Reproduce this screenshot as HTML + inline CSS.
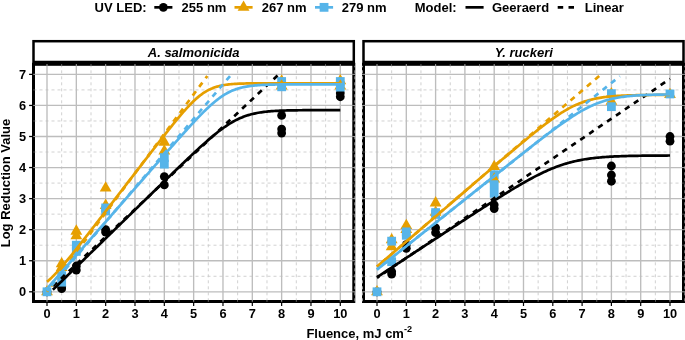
<!DOCTYPE html>
<html><head><meta charset="utf-8"><title>chart</title>
<style>html,body{margin:0;padding:0;background:#fff}body{width:685px;height:340px;overflow:hidden;position:relative;font-family:"Liberation Sans",sans-serif}svg{position:absolute;left:0;top:0;will-change:transform}</style></head>
<body>
<svg width="685" height="340" viewBox="0 0 685 340" style="display:block" font-family="Liberation Sans, sans-serif" font-weight="bold">
<rect width="685" height="340" fill="#fff"/>
<clipPath id="cp0"><rect x="33.5" y="64.3" width="320.3" height="237.2"/></clipPath>
<g clip-path="url(#cp0)">
<line x1="61.66" x2="61.66" y1="64.3" y2="301.5" stroke="#cccccc" stroke-width="0.9" stroke-dasharray="3 3"/>
<line x1="91.00" x2="91.00" y1="64.3" y2="301.5" stroke="#cccccc" stroke-width="0.9" stroke-dasharray="3 3"/>
<line x1="120.32" x2="120.32" y1="64.3" y2="301.5" stroke="#cccccc" stroke-width="0.9" stroke-dasharray="3 3"/>
<line x1="149.66" x2="149.66" y1="64.3" y2="301.5" stroke="#cccccc" stroke-width="0.9" stroke-dasharray="3 3"/>
<line x1="178.98" x2="178.98" y1="64.3" y2="301.5" stroke="#cccccc" stroke-width="0.9" stroke-dasharray="3 3"/>
<line x1="208.31" x2="208.31" y1="64.3" y2="301.5" stroke="#cccccc" stroke-width="0.9" stroke-dasharray="3 3"/>
<line x1="237.64" x2="237.64" y1="64.3" y2="301.5" stroke="#cccccc" stroke-width="0.9" stroke-dasharray="3 3"/>
<line x1="266.98" x2="266.98" y1="64.3" y2="301.5" stroke="#cccccc" stroke-width="0.9" stroke-dasharray="3 3"/>
<line x1="296.30" x2="296.30" y1="64.3" y2="301.5" stroke="#cccccc" stroke-width="0.9" stroke-dasharray="3 3"/>
<line x1="325.63" x2="325.63" y1="64.3" y2="301.5" stroke="#cccccc" stroke-width="0.9" stroke-dasharray="3 3"/>
<line x1="33.5" x2="353.8" y1="276.27" y2="276.27" stroke="#cccccc" stroke-width="0.9" stroke-dasharray="3 3"/>
<line x1="33.5" x2="353.8" y1="245.21" y2="245.21" stroke="#cccccc" stroke-width="0.9" stroke-dasharray="3 3"/>
<line x1="33.5" x2="353.8" y1="214.15" y2="214.15" stroke="#cccccc" stroke-width="0.9" stroke-dasharray="3 3"/>
<line x1="33.5" x2="353.8" y1="183.09" y2="183.09" stroke="#cccccc" stroke-width="0.9" stroke-dasharray="3 3"/>
<line x1="33.5" x2="353.8" y1="152.03" y2="152.03" stroke="#cccccc" stroke-width="0.9" stroke-dasharray="3 3"/>
<line x1="33.5" x2="353.8" y1="120.97" y2="120.97" stroke="#cccccc" stroke-width="0.9" stroke-dasharray="3 3"/>
<line x1="33.5" x2="353.8" y1="89.91" y2="89.91" stroke="#cccccc" stroke-width="0.9" stroke-dasharray="3 3"/>
<line x1="47.00" x2="47.00" y1="64.3" y2="301.5" stroke="#bdbdbd" stroke-width="1.35"/>
<line x1="76.33" x2="76.33" y1="64.3" y2="301.5" stroke="#bdbdbd" stroke-width="1.35"/>
<line x1="105.66" x2="105.66" y1="64.3" y2="301.5" stroke="#bdbdbd" stroke-width="1.35"/>
<line x1="134.99" x2="134.99" y1="64.3" y2="301.5" stroke="#bdbdbd" stroke-width="1.35"/>
<line x1="164.32" x2="164.32" y1="64.3" y2="301.5" stroke="#bdbdbd" stroke-width="1.35"/>
<line x1="193.65" x2="193.65" y1="64.3" y2="301.5" stroke="#bdbdbd" stroke-width="1.35"/>
<line x1="222.98" x2="222.98" y1="64.3" y2="301.5" stroke="#bdbdbd" stroke-width="1.35"/>
<line x1="252.31" x2="252.31" y1="64.3" y2="301.5" stroke="#bdbdbd" stroke-width="1.35"/>
<line x1="281.64" x2="281.64" y1="64.3" y2="301.5" stroke="#bdbdbd" stroke-width="1.35"/>
<line x1="310.97" x2="310.97" y1="64.3" y2="301.5" stroke="#bdbdbd" stroke-width="1.35"/>
<line x1="340.30" x2="340.30" y1="64.3" y2="301.5" stroke="#bdbdbd" stroke-width="1.35"/>
<line x1="33.5" x2="353.8" y1="291.80" y2="291.80" stroke="#bdbdbd" stroke-width="1.35"/>
<line x1="33.5" x2="353.8" y1="260.74" y2="260.74" stroke="#bdbdbd" stroke-width="1.35"/>
<line x1="33.5" x2="353.8" y1="229.68" y2="229.68" stroke="#bdbdbd" stroke-width="1.35"/>
<line x1="33.5" x2="353.8" y1="198.62" y2="198.62" stroke="#bdbdbd" stroke-width="1.35"/>
<line x1="33.5" x2="353.8" y1="167.56" y2="167.56" stroke="#bdbdbd" stroke-width="1.35"/>
<line x1="33.5" x2="353.8" y1="136.50" y2="136.50" stroke="#bdbdbd" stroke-width="1.35"/>
<line x1="33.5" x2="353.8" y1="105.44" y2="105.44" stroke="#bdbdbd" stroke-width="1.35"/>
<line x1="33.5" x2="353.8" y1="74.38" y2="74.38" stroke="#bdbdbd" stroke-width="1.35"/>
</g>
<rect x="33.5" y="64.3" width="320.3" height="237.2" fill="none" stroke="#000" stroke-width="3"/>
<rect x="33.5" y="41.2" width="320.3" height="20.80" fill="#fff" stroke="#000" stroke-width="2.5"/>
<line x1="47.00" x2="47.00" y1="64.0" y2="65.89999999999999" stroke="#bdbdbd" stroke-width="1.1" opacity="0.8"/>
<line x1="76.33" x2="76.33" y1="64.0" y2="65.89999999999999" stroke="#bdbdbd" stroke-width="1.1" opacity="0.8"/>
<line x1="105.66" x2="105.66" y1="64.0" y2="65.89999999999999" stroke="#bdbdbd" stroke-width="1.1" opacity="0.8"/>
<line x1="134.99" x2="134.99" y1="64.0" y2="65.89999999999999" stroke="#bdbdbd" stroke-width="1.1" opacity="0.8"/>
<line x1="164.32" x2="164.32" y1="64.0" y2="65.89999999999999" stroke="#bdbdbd" stroke-width="1.1" opacity="0.8"/>
<line x1="193.65" x2="193.65" y1="64.0" y2="65.89999999999999" stroke="#bdbdbd" stroke-width="1.1" opacity="0.8"/>
<line x1="222.98" x2="222.98" y1="64.0" y2="65.89999999999999" stroke="#bdbdbd" stroke-width="1.1" opacity="0.8"/>
<line x1="252.31" x2="252.31" y1="64.0" y2="65.89999999999999" stroke="#bdbdbd" stroke-width="1.1" opacity="0.8"/>
<line x1="281.64" x2="281.64" y1="64.0" y2="65.89999999999999" stroke="#bdbdbd" stroke-width="1.1" opacity="0.8"/>
<line x1="310.97" x2="310.97" y1="64.0" y2="65.89999999999999" stroke="#bdbdbd" stroke-width="1.1" opacity="0.8"/>
<line x1="340.30" x2="340.30" y1="64.0" y2="65.89999999999999" stroke="#bdbdbd" stroke-width="1.1" opacity="0.8"/>
<line x1="61.66" x2="61.66" y1="64.0" y2="65.89999999999999" stroke="#cccccc" stroke-width="0.7" opacity="0.7"/>
<line x1="91.00" x2="91.00" y1="64.0" y2="65.89999999999999" stroke="#cccccc" stroke-width="0.7" opacity="0.7"/>
<line x1="120.32" x2="120.32" y1="64.0" y2="65.89999999999999" stroke="#cccccc" stroke-width="0.7" opacity="0.7"/>
<line x1="149.66" x2="149.66" y1="64.0" y2="65.89999999999999" stroke="#cccccc" stroke-width="0.7" opacity="0.7"/>
<line x1="178.98" x2="178.98" y1="64.0" y2="65.89999999999999" stroke="#cccccc" stroke-width="0.7" opacity="0.7"/>
<line x1="208.31" x2="208.31" y1="64.0" y2="65.89999999999999" stroke="#cccccc" stroke-width="0.7" opacity="0.7"/>
<line x1="237.64" x2="237.64" y1="64.0" y2="65.89999999999999" stroke="#cccccc" stroke-width="0.7" opacity="0.7"/>
<line x1="266.98" x2="266.98" y1="64.0" y2="65.89999999999999" stroke="#cccccc" stroke-width="0.7" opacity="0.7"/>
<line x1="296.30" x2="296.30" y1="64.0" y2="65.89999999999999" stroke="#cccccc" stroke-width="0.7" opacity="0.7"/>
<line x1="325.63" x2="325.63" y1="64.0" y2="65.89999999999999" stroke="#cccccc" stroke-width="0.7" opacity="0.7"/>
<line x1="354.96" x2="354.96" y1="65.8" y2="303.0" stroke="#cccccc" stroke-width="0.9" stroke-dasharray="3 3" stroke-dashoffset="1.5"/>
<line x1="47.00" x2="47.00" y1="299.9" y2="301.8" stroke="#bdbdbd" stroke-width="1.1" opacity="0.8"/>
<line x1="76.33" x2="76.33" y1="299.9" y2="301.8" stroke="#bdbdbd" stroke-width="1.1" opacity="0.8"/>
<line x1="105.66" x2="105.66" y1="299.9" y2="301.8" stroke="#bdbdbd" stroke-width="1.1" opacity="0.8"/>
<line x1="134.99" x2="134.99" y1="299.9" y2="301.8" stroke="#bdbdbd" stroke-width="1.1" opacity="0.8"/>
<line x1="164.32" x2="164.32" y1="299.9" y2="301.8" stroke="#bdbdbd" stroke-width="1.1" opacity="0.8"/>
<line x1="193.65" x2="193.65" y1="299.9" y2="301.8" stroke="#bdbdbd" stroke-width="1.1" opacity="0.8"/>
<line x1="222.98" x2="222.98" y1="299.9" y2="301.8" stroke="#bdbdbd" stroke-width="1.1" opacity="0.8"/>
<line x1="252.31" x2="252.31" y1="299.9" y2="301.8" stroke="#bdbdbd" stroke-width="1.1" opacity="0.8"/>
<line x1="281.64" x2="281.64" y1="299.9" y2="301.8" stroke="#bdbdbd" stroke-width="1.1" opacity="0.8"/>
<line x1="310.97" x2="310.97" y1="299.9" y2="301.8" stroke="#bdbdbd" stroke-width="1.1" opacity="0.8"/>
<line x1="340.30" x2="340.30" y1="299.9" y2="301.8" stroke="#bdbdbd" stroke-width="1.1" opacity="0.8"/>
<line x1="61.66" x2="61.66" y1="299.9" y2="301.8" stroke="#cccccc" stroke-width="0.7" opacity="0.7"/>
<line x1="91.00" x2="91.00" y1="299.9" y2="301.8" stroke="#cccccc" stroke-width="0.7" opacity="0.7"/>
<line x1="120.32" x2="120.32" y1="299.9" y2="301.8" stroke="#cccccc" stroke-width="0.7" opacity="0.7"/>
<line x1="149.66" x2="149.66" y1="299.9" y2="301.8" stroke="#cccccc" stroke-width="0.7" opacity="0.7"/>
<line x1="178.98" x2="178.98" y1="299.9" y2="301.8" stroke="#cccccc" stroke-width="0.7" opacity="0.7"/>
<line x1="208.31" x2="208.31" y1="299.9" y2="301.8" stroke="#cccccc" stroke-width="0.7" opacity="0.7"/>
<line x1="237.64" x2="237.64" y1="299.9" y2="301.8" stroke="#cccccc" stroke-width="0.7" opacity="0.7"/>
<line x1="266.98" x2="266.98" y1="299.9" y2="301.8" stroke="#cccccc" stroke-width="0.7" opacity="0.7"/>
<line x1="296.30" x2="296.30" y1="299.9" y2="301.8" stroke="#cccccc" stroke-width="0.7" opacity="0.7"/>
<line x1="325.63" x2="325.63" y1="299.9" y2="301.8" stroke="#cccccc" stroke-width="0.7" opacity="0.7"/>
<line x1="33.2" x2="35.1" y1="291.80" y2="291.80" stroke="#bdbdbd" stroke-width="1.1" opacity="0.8"/>
<line x1="352.2" x2="355.40000000000003" y1="291.80" y2="291.80" stroke="#bdbdbd" stroke-width="1.1" opacity="0.8"/>
<line x1="33.2" x2="35.1" y1="260.74" y2="260.74" stroke="#bdbdbd" stroke-width="1.1" opacity="0.8"/>
<line x1="352.2" x2="355.40000000000003" y1="260.74" y2="260.74" stroke="#bdbdbd" stroke-width="1.1" opacity="0.8"/>
<line x1="33.2" x2="35.1" y1="229.68" y2="229.68" stroke="#bdbdbd" stroke-width="1.1" opacity="0.8"/>
<line x1="352.2" x2="355.40000000000003" y1="229.68" y2="229.68" stroke="#bdbdbd" stroke-width="1.1" opacity="0.8"/>
<line x1="33.2" x2="35.1" y1="198.62" y2="198.62" stroke="#bdbdbd" stroke-width="1.1" opacity="0.8"/>
<line x1="352.2" x2="355.40000000000003" y1="198.62" y2="198.62" stroke="#bdbdbd" stroke-width="1.1" opacity="0.8"/>
<line x1="33.2" x2="35.1" y1="167.56" y2="167.56" stroke="#bdbdbd" stroke-width="1.1" opacity="0.8"/>
<line x1="352.2" x2="355.40000000000003" y1="167.56" y2="167.56" stroke="#bdbdbd" stroke-width="1.1" opacity="0.8"/>
<line x1="33.2" x2="35.1" y1="136.50" y2="136.50" stroke="#bdbdbd" stroke-width="1.1" opacity="0.8"/>
<line x1="352.2" x2="355.40000000000003" y1="136.50" y2="136.50" stroke="#bdbdbd" stroke-width="1.1" opacity="0.8"/>
<line x1="33.2" x2="35.1" y1="105.44" y2="105.44" stroke="#bdbdbd" stroke-width="1.1" opacity="0.8"/>
<line x1="352.2" x2="355.40000000000003" y1="105.44" y2="105.44" stroke="#bdbdbd" stroke-width="1.1" opacity="0.8"/>
<line x1="33.2" x2="35.1" y1="74.38" y2="74.38" stroke="#bdbdbd" stroke-width="1.1" opacity="0.8"/>
<line x1="352.2" x2="355.40000000000003" y1="74.38" y2="74.38" stroke="#bdbdbd" stroke-width="1.1" opacity="0.8"/>
<line x1="33.2" x2="35.1" y1="276.27" y2="276.27" stroke="#cccccc" stroke-width="0.7" opacity="0.5"/>
<line x1="352.2" x2="355.40000000000003" y1="276.27" y2="276.27" stroke="#cccccc" stroke-width="0.7" opacity="0.5"/>
<line x1="33.2" x2="35.1" y1="245.21" y2="245.21" stroke="#cccccc" stroke-width="0.7" opacity="0.5"/>
<line x1="352.2" x2="355.40000000000003" y1="245.21" y2="245.21" stroke="#cccccc" stroke-width="0.7" opacity="0.5"/>
<line x1="33.2" x2="35.1" y1="214.15" y2="214.15" stroke="#cccccc" stroke-width="0.7" opacity="0.5"/>
<line x1="352.2" x2="355.40000000000003" y1="214.15" y2="214.15" stroke="#cccccc" stroke-width="0.7" opacity="0.5"/>
<line x1="33.2" x2="35.1" y1="183.09" y2="183.09" stroke="#cccccc" stroke-width="0.7" opacity="0.5"/>
<line x1="352.2" x2="355.40000000000003" y1="183.09" y2="183.09" stroke="#cccccc" stroke-width="0.7" opacity="0.5"/>
<line x1="33.2" x2="35.1" y1="152.03" y2="152.03" stroke="#cccccc" stroke-width="0.7" opacity="0.5"/>
<line x1="352.2" x2="355.40000000000003" y1="152.03" y2="152.03" stroke="#cccccc" stroke-width="0.7" opacity="0.5"/>
<line x1="33.2" x2="35.1" y1="120.97" y2="120.97" stroke="#cccccc" stroke-width="0.7" opacity="0.5"/>
<line x1="352.2" x2="355.40000000000003" y1="120.97" y2="120.97" stroke="#cccccc" stroke-width="0.7" opacity="0.5"/>
<line x1="33.2" x2="35.1" y1="89.91" y2="89.91" stroke="#cccccc" stroke-width="0.7" opacity="0.5"/>
<line x1="352.2" x2="355.40000000000003" y1="89.91" y2="89.91" stroke="#cccccc" stroke-width="0.7" opacity="0.5"/>
<g clip-path="url(#cp0)">
<circle cx="47.00" cy="291.80" r="4.4" fill="#000000"/>
<circle cx="61.66" cy="288.69" r="4.4" fill="#000000"/>
<circle cx="76.33" cy="270.06" r="4.4" fill="#000000"/>
<circle cx="105.66" cy="232.16" r="4.4" fill="#000000"/>
<circle cx="164.32" cy="184.95" r="4.4" fill="#000000"/>
<circle cx="281.64" cy="133.08" r="4.4" fill="#000000"/>
<circle cx="340.30" cy="96.74" r="4.4" fill="#000000"/>
<polygon points="47.00,284.93 52.92,295.23 41.08,295.23" fill="#E69F00"/>
<polygon points="61.66,260.71 67.59,271.01 55.74,271.01" fill="#E69F00"/>
<polygon points="76.33,229.03 82.25,239.33 70.41,239.33" fill="#E69F00"/>
<polygon points="105.66,198.59 111.58,208.89 99.73,208.89" fill="#E69F00"/>
<polygon points="164.32,144.23 170.25,154.53 158.39,154.53" fill="#E69F00"/>
<polygon points="281.64,74.35 287.56,84.65 275.71,84.65" fill="#E69F00"/>
<polygon points="340.30,74.04 346.22,84.34 334.37,84.34" fill="#E69F00"/>
<rect x="42.60" y="287.40" width="8.8" height="8.8" fill="#56B4E9"/>
<rect x="57.27" y="271.25" width="8.8" height="8.8" fill="#56B4E9"/>
<rect x="71.93" y="247.02" width="8.8" height="8.8" fill="#56B4E9"/>
<rect x="101.26" y="206.64" width="8.8" height="8.8" fill="#56B4E9"/>
<rect x="159.92" y="159.74" width="8.8" height="8.8" fill="#56B4E9"/>
<rect x="277.24" y="77.12" width="8.8" height="8.8" fill="#56B4E9"/>
<rect x="335.90" y="77.12" width="8.8" height="8.8" fill="#56B4E9"/>
<circle cx="61.66" cy="286.52" r="4.4" fill="#000000"/>
<circle cx="76.33" cy="266.02" r="4.4" fill="#000000"/>
<circle cx="105.66" cy="229.68" r="4.4" fill="#000000"/>
<circle cx="164.32" cy="176.57" r="4.4" fill="#000000"/>
<circle cx="281.64" cy="129.05" r="4.4" fill="#000000"/>
<circle cx="340.30" cy="93.02" r="4.4" fill="#000000"/>
<polygon points="61.66,256.98 67.59,267.28 55.74,267.28" fill="#E69F00"/>
<polygon points="76.33,224.37 82.25,234.67 70.41,234.67" fill="#E69F00"/>
<polygon points="105.66,181.19 111.58,191.49 99.73,191.49" fill="#E69F00"/>
<polygon points="164.32,135.53 170.25,145.83 158.39,145.83" fill="#E69F00"/>
<polygon points="281.64,79.32 287.56,89.62 275.71,89.62" fill="#E69F00"/>
<polygon points="340.30,79.32 346.22,89.62 334.37,89.62" fill="#E69F00"/>
<rect x="57.27" y="277.77" width="8.8" height="8.8" fill="#56B4E9"/>
<rect x="71.93" y="240.81" width="8.8" height="8.8" fill="#56B4E9"/>
<rect x="101.26" y="203.54" width="8.8" height="8.8" fill="#56B4E9"/>
<rect x="159.92" y="153.22" width="8.8" height="8.8" fill="#56B4E9"/>
<rect x="277.24" y="82.40" width="8.8" height="8.8" fill="#56B4E9"/>
<rect x="335.90" y="82.71" width="8.8" height="8.8" fill="#56B4E9"/>
<circle cx="281.64" cy="115.38" r="4.4" fill="#000000"/>
<path d="M52.87,289.81 L54.30,288.41 L55.74,287.01 L57.18,285.61 L58.61,284.21 L60.05,282.81 L61.49,281.41 L62.93,280.01 L64.36,278.61 L65.80,277.21 L67.24,275.81 L68.67,274.41 L70.11,273.01 L71.55,271.61 L72.99,270.21 L74.42,268.81 L75.86,267.41 L77.30,266.01 L78.74,264.61 L80.17,263.21 L81.61,261.81 L83.05,260.41 L84.48,259.01 L85.92,257.61 L87.36,256.21 L88.80,254.81 L90.23,253.41 L91.67,252.01 L93.11,250.61 L94.54,249.21 L95.98,247.81 L97.42,246.41 L98.86,245.01 L100.29,243.61 L101.73,242.21 L103.17,240.81 L104.60,239.41 L106.04,238.01 L107.48,236.61 L108.92,235.21 L110.35,233.81 L111.79,232.41 L113.23,231.01 L114.66,229.61 L116.10,228.21 L117.54,226.81 L118.98,225.41 L120.41,224.01 L121.85,222.61 L123.29,221.21 L124.72,219.81 L126.16,218.41 L127.60,217.01 L129.04,215.61 L130.47,214.21 L131.91,212.81 L133.35,211.41 L134.78,210.01 L136.22,208.61 L137.66,207.21 L139.10,205.81 L140.53,204.41 L141.97,203.01 L143.41,201.62 L144.84,200.22 L146.28,198.82 L147.72,197.42 L149.16,196.02 L150.59,194.63 L152.03,193.23 L153.47,191.83 L154.91,190.43 L156.34,189.04 L157.78,187.64 L159.22,186.25 L160.65,184.85 L162.09,183.46 L163.53,182.06 L164.97,180.67 L166.40,179.28 L167.84,177.89 L169.28,176.50 L170.71,175.11 L172.15,173.72 L173.59,172.33 L175.03,170.95 L176.46,169.56 L177.90,168.18 L179.34,166.80 L180.77,165.42 L182.21,164.05 L183.65,162.67 L185.09,161.30 L186.52,159.93 L187.96,158.57 L189.40,157.21 L190.83,155.86 L192.27,154.51 L193.71,153.16 L195.15,151.82 L196.58,150.49 L198.02,149.16 L199.46,147.84 L200.89,146.53 L202.33,145.23 L203.77,143.94 L205.21,142.66 L206.64,141.39 L208.08,140.13 L209.52,138.89 L210.95,137.66 L212.39,136.45 L213.83,135.26 L215.27,134.09 L216.70,132.93 L218.14,131.80 L219.58,130.69 L221.01,129.61 L222.45,128.55 L223.89,127.52 L225.33,126.52 L226.76,125.55 L228.20,124.61 L229.64,123.71 L231.08,122.83 L232.51,122.00 L233.95,121.19 L235.39,120.43 L236.82,119.70 L238.26,119.00 L239.70,118.34 L241.14,117.72 L242.57,117.13 L244.01,116.58 L245.45,116.07 L246.88,115.58 L248.32,115.13 L249.76,114.71 L251.20,114.32 L252.63,113.96 L254.07,113.62 L255.51,113.31 L256.94,113.03 L258.38,112.77 L259.82,112.52 L261.26,112.30 L262.69,112.10 L264.13,111.92 L265.57,111.75 L267.00,111.59 L268.44,111.45 L269.88,111.33 L271.32,111.21 L272.75,111.10 L274.19,111.01 L275.63,110.92 L277.06,110.84 L278.50,110.77 L279.94,110.71 L281.38,110.65 L282.81,110.59 L284.25,110.55 L285.69,110.50 L287.12,110.46 L288.56,110.43 L290.00,110.40 L291.44,110.37 L292.87,110.34 L294.31,110.32 L295.75,110.30 L297.18,110.28 L298.62,110.26 L300.06,110.24 L301.50,110.23 L302.93,110.22 L304.37,110.20 L305.81,110.19 L307.25,110.19 L308.68,110.18 L310.12,110.17 L311.56,110.16 L312.99,110.16 L314.43,110.15 L315.87,110.15 L317.31,110.14 L318.74,110.14 L320.18,110.13 L321.62,110.13 L323.05,110.13 L324.49,110.12 L325.93,110.12 L327.37,110.12 L328.80,110.12 L330.24,110.12 L331.68,110.11 L333.11,110.11 L334.55,110.11 L335.99,110.11 L337.43,110.11 L338.86,110.11 L340.30,110.11" fill="none" stroke="#000000" stroke-width="2.7" stroke-linejoin="round"/>
<line x1="277.53" y1="75.50" x2="52.87" y2="286.30" stroke="#000000" stroke-width="2.7" stroke-dasharray="5.4 5.4" stroke-dashoffset="0.0"/>
<path d="M47.00,281.86 L48.47,280.58 L49.93,279.25 L51.40,277.86 L52.87,276.41 L54.33,274.92 L55.80,273.39 L57.27,271.81 L58.73,270.20 L60.20,268.56 L61.66,266.88 L63.13,265.18 L64.60,263.45 L66.06,261.70 L67.53,259.93 L69.00,258.15 L70.46,256.35 L71.93,254.53 L73.40,252.71 L74.86,250.87 L76.33,249.03 L77.80,247.17 L79.26,245.31 L80.73,243.45 L82.20,241.57 L83.66,239.70 L85.13,237.82 L86.60,235.94 L88.06,234.05 L89.53,232.16 L91.00,230.27 L92.46,228.37 L93.93,226.48 L95.39,224.58 L96.86,222.68 L98.33,220.78 L99.79,218.88 L101.26,216.98 L102.73,215.08 L104.19,213.18 L105.66,211.27 L107.13,209.37 L108.59,207.47 L110.06,205.56 L111.53,203.66 L112.99,201.75 L114.46,199.85 L115.93,197.94 L117.39,196.04 L118.86,194.13 L120.32,192.23 L121.79,190.32 L123.26,188.41 L124.72,186.51 L126.19,184.60 L127.66,182.70 L129.12,180.79 L130.59,178.89 L132.06,176.98 L133.52,175.08 L134.99,173.17 L136.46,171.27 L137.92,169.36 L139.39,167.46 L140.86,165.56 L142.32,163.66 L143.79,161.75 L145.26,159.85 L146.72,157.95 L148.19,156.05 L149.66,154.16 L151.12,152.26 L152.59,150.37 L154.05,148.47 L155.52,146.58 L156.99,144.69 L158.45,142.81 L159.92,140.93 L161.39,139.05 L162.85,137.17 L164.32,135.30 L165.79,133.44 L167.25,131.58 L168.72,129.73 L170.19,127.89 L171.65,126.06 L173.12,124.23 L174.59,122.42 L176.05,120.63 L177.52,118.85 L178.98,117.09 L180.45,115.35 L181.92,113.63 L183.38,111.93 L184.85,110.27 L186.32,108.63 L187.78,107.04 L189.25,105.47 L190.72,103.96 L192.18,102.48 L193.65,101.06 L195.12,99.69 L196.58,98.37 L198.05,97.12 L199.52,95.92 L200.98,94.79 L202.45,93.73 L203.92,92.73 L205.38,91.80 L206.85,90.94 L208.31,90.14 L209.78,89.41 L211.25,88.74 L212.71,88.13 L214.18,87.58 L215.65,87.08 L217.11,86.63 L218.58,86.23 L220.05,85.87 L221.51,85.55 L222.98,85.26 L224.45,85.01 L225.91,84.79 L227.38,84.60 L228.85,84.42 L230.31,84.27 L231.78,84.14 L233.25,84.02 L234.71,83.92 L236.18,83.83 L237.64,83.76 L239.11,83.69 L240.58,83.63 L242.04,83.58 L243.51,83.53 L244.98,83.49 L246.44,83.46 L247.91,83.43 L249.38,83.40 L250.84,83.38 L252.31,83.36 L253.78,83.34 L255.24,83.33 L256.71,83.32 L258.18,83.31 L259.64,83.30 L261.11,83.29 L262.58,83.28 L264.04,83.27 L265.51,83.27 L266.98,83.26 L268.44,83.26 L269.91,83.26 L271.37,83.25 L272.84,83.25 L274.31,83.25 L275.77,83.25 L277.24,83.24 L278.71,83.24 L280.17,83.24 L281.64,83.24 L283.11,83.24 L284.57,83.24 L286.04,83.24 L287.51,83.24 L288.97,83.24 L290.44,83.24 L291.91,83.23 L293.37,83.23 L294.84,83.23 L296.30,83.23 L297.77,83.23 L299.24,83.23 L300.70,83.23 L302.17,83.23 L303.64,83.23 L305.10,83.23 L306.57,83.23 L308.04,83.23 L309.50,83.23 L310.97,83.23 L312.44,83.23 L313.90,83.23 L315.37,83.23 L316.84,83.23 L318.30,83.23 L319.77,83.23 L321.24,83.23 L322.70,83.23 L324.17,83.23 L325.63,83.23 L327.10,83.23 L328.57,83.23 L330.03,83.23 L331.50,83.23 L332.97,83.23 L334.43,83.23 L335.90,83.23 L337.37,83.23 L338.83,83.23 L340.30,83.23" fill="none" stroke="#E69F00" stroke-width="2.7" stroke-linejoin="round"/>
<line x1="207.32" y1="75.93" x2="47.00" y2="291.80" stroke="#E69F00" stroke-width="2.7" stroke-dasharray="5.4 5.4" stroke-dashoffset="2.5"/>
<path d="M47.00,288.69 L48.47,287.02 L49.93,285.35 L51.40,283.68 L52.87,282.00 L54.33,280.33 L55.80,278.66 L57.27,276.99 L58.73,275.31 L60.20,273.64 L61.66,271.97 L63.13,270.30 L64.60,268.62 L66.06,266.95 L67.53,265.28 L69.00,263.61 L70.46,261.93 L71.93,260.26 L73.40,258.59 L74.86,256.91 L76.33,255.24 L77.80,253.57 L79.26,251.90 L80.73,250.22 L82.20,248.55 L83.66,246.88 L85.13,245.21 L86.60,243.53 L88.06,241.86 L89.53,240.19 L91.00,238.52 L92.46,236.84 L93.93,235.17 L95.39,233.50 L96.86,231.83 L98.33,230.15 L99.79,228.48 L101.26,226.81 L102.73,225.14 L104.19,223.46 L105.66,221.79 L107.13,220.12 L108.59,218.45 L110.06,216.77 L111.53,215.10 L112.99,213.43 L114.46,211.76 L115.93,210.08 L117.39,208.41 L118.86,206.74 L120.32,205.07 L121.79,203.39 L123.26,201.72 L124.72,200.05 L126.19,198.38 L127.66,196.71 L129.12,195.03 L130.59,193.36 L132.06,191.69 L133.52,190.02 L134.99,188.35 L136.46,186.67 L137.92,185.00 L139.39,183.33 L140.86,181.66 L142.32,179.99 L143.79,178.32 L145.26,176.65 L146.72,174.97 L148.19,173.30 L149.66,171.63 L151.12,169.96 L152.59,168.29 L154.05,166.63 L155.52,164.96 L156.99,163.29 L158.45,161.62 L159.92,159.95 L161.39,158.29 L162.85,156.62 L164.32,154.96 L165.79,153.30 L167.25,151.63 L168.72,149.97 L170.19,148.32 L171.65,146.66 L173.12,145.00 L174.59,143.35 L176.05,141.70 L177.52,140.05 L178.98,138.41 L180.45,136.77 L181.92,135.13 L183.38,133.50 L184.85,131.87 L186.32,130.25 L187.78,128.64 L189.25,127.03 L190.72,125.44 L192.18,123.85 L193.65,122.27 L195.12,120.70 L196.58,119.15 L198.05,117.61 L199.52,116.09 L200.98,114.59 L202.45,113.10 L203.92,111.64 L205.38,110.20 L206.85,108.78 L208.31,107.40 L209.78,106.04 L211.25,104.72 L212.71,103.44 L214.18,102.19 L215.65,100.98 L217.11,99.82 L218.58,98.70 L220.05,97.62 L221.51,96.60 L222.98,95.63 L224.45,94.70 L225.91,93.83 L227.38,93.01 L228.85,92.24 L230.31,91.52 L231.78,90.86 L233.25,90.24 L234.71,89.67 L236.18,89.14 L237.64,88.66 L239.11,88.22 L240.58,87.82 L242.04,87.46 L243.51,87.13 L244.98,86.83 L246.44,86.56 L247.91,86.31 L249.38,86.10 L250.84,85.90 L252.31,85.73 L253.78,85.57 L255.24,85.43 L256.71,85.30 L258.18,85.19 L259.64,85.09 L261.11,85.01 L262.58,84.93 L264.04,84.86 L265.51,84.80 L266.98,84.74 L268.44,84.69 L269.91,84.65 L271.37,84.61 L272.84,84.58 L274.31,84.55 L275.77,84.52 L277.24,84.50 L278.71,84.48 L280.17,84.46 L281.64,84.44 L283.11,84.43 L284.57,84.42 L286.04,84.40 L287.51,84.39 L288.97,84.39 L290.44,84.38 L291.91,84.37 L293.37,84.37 L294.84,84.36 L296.30,84.36 L297.77,84.35 L299.24,84.35 L300.70,84.34 L302.17,84.34 L303.64,84.34 L305.10,84.34 L306.57,84.33 L308.04,84.33 L309.50,84.33 L310.97,84.33 L312.44,84.33 L313.90,84.33 L315.37,84.33 L316.84,84.33 L318.30,84.32 L319.77,84.32 L321.24,84.32 L322.70,84.32 L324.17,84.32 L325.63,84.32 L327.10,84.32 L328.57,84.32 L330.03,84.32 L331.50,84.32 L332.97,84.32 L334.43,84.32 L335.90,84.32 L337.37,84.32 L338.83,84.32 L340.30,84.32" fill="none" stroke="#56B4E9" stroke-width="2.7" stroke-linejoin="round"/>
<line x1="230.02" y1="76.12" x2="47.00" y2="290.87" stroke="#56B4E9" stroke-width="2.7" stroke-dasharray="5.4 5.4" stroke-dashoffset="0.0"/>
</g>
<line x1="47.00" x2="47.00" y1="302.9" y2="306.0" stroke="#000" stroke-width="1.2"/>
<text x="47.00" y="318.2" font-size="12.8" text-anchor="middle">0</text>
<line x1="76.33" x2="76.33" y1="302.9" y2="306.0" stroke="#000" stroke-width="1.2"/>
<text x="76.33" y="318.2" font-size="12.8" text-anchor="middle">1</text>
<line x1="105.66" x2="105.66" y1="302.9" y2="306.0" stroke="#000" stroke-width="1.2"/>
<text x="105.66" y="318.2" font-size="12.8" text-anchor="middle">2</text>
<line x1="134.99" x2="134.99" y1="302.9" y2="306.0" stroke="#000" stroke-width="1.2"/>
<text x="134.99" y="318.2" font-size="12.8" text-anchor="middle">3</text>
<line x1="164.32" x2="164.32" y1="302.9" y2="306.0" stroke="#000" stroke-width="1.2"/>
<text x="164.32" y="318.2" font-size="12.8" text-anchor="middle">4</text>
<line x1="193.65" x2="193.65" y1="302.9" y2="306.0" stroke="#000" stroke-width="1.2"/>
<text x="193.65" y="318.2" font-size="12.8" text-anchor="middle">5</text>
<line x1="222.98" x2="222.98" y1="302.9" y2="306.0" stroke="#000" stroke-width="1.2"/>
<text x="222.98" y="318.2" font-size="12.8" text-anchor="middle">6</text>
<line x1="252.31" x2="252.31" y1="302.9" y2="306.0" stroke="#000" stroke-width="1.2"/>
<text x="252.31" y="318.2" font-size="12.8" text-anchor="middle">7</text>
<line x1="281.64" x2="281.64" y1="302.9" y2="306.0" stroke="#000" stroke-width="1.2"/>
<text x="281.64" y="318.2" font-size="12.8" text-anchor="middle">8</text>
<line x1="310.97" x2="310.97" y1="302.9" y2="306.0" stroke="#000" stroke-width="1.2"/>
<text x="310.97" y="318.2" font-size="12.8" text-anchor="middle">9</text>
<line x1="340.30" x2="340.30" y1="302.9" y2="306.0" stroke="#000" stroke-width="1.2"/>
<text x="340.30" y="318.2" font-size="12.8" text-anchor="middle">10</text>
<text x="193.65" y="57.1" font-size="13" font-style="italic" text-anchor="middle">A. salmonicida</text>
<clipPath id="cp1"><rect x="363.5" y="64.3" width="320.0" height="237.2"/></clipPath>
<g clip-path="url(#cp1)">
<line x1="391.65" x2="391.65" y1="64.3" y2="301.5" stroke="#cccccc" stroke-width="0.9" stroke-dasharray="3 3"/>
<line x1="420.95" x2="420.95" y1="64.3" y2="301.5" stroke="#cccccc" stroke-width="0.9" stroke-dasharray="3 3"/>
<line x1="450.25" x2="450.25" y1="64.3" y2="301.5" stroke="#cccccc" stroke-width="0.9" stroke-dasharray="3 3"/>
<line x1="479.55" x2="479.55" y1="64.3" y2="301.5" stroke="#cccccc" stroke-width="0.9" stroke-dasharray="3 3"/>
<line x1="508.85" x2="508.85" y1="64.3" y2="301.5" stroke="#cccccc" stroke-width="0.9" stroke-dasharray="3 3"/>
<line x1="538.15" x2="538.15" y1="64.3" y2="301.5" stroke="#cccccc" stroke-width="0.9" stroke-dasharray="3 3"/>
<line x1="567.45" x2="567.45" y1="64.3" y2="301.5" stroke="#cccccc" stroke-width="0.9" stroke-dasharray="3 3"/>
<line x1="596.75" x2="596.75" y1="64.3" y2="301.5" stroke="#cccccc" stroke-width="0.9" stroke-dasharray="3 3"/>
<line x1="626.05" x2="626.05" y1="64.3" y2="301.5" stroke="#cccccc" stroke-width="0.9" stroke-dasharray="3 3"/>
<line x1="655.35" x2="655.35" y1="64.3" y2="301.5" stroke="#cccccc" stroke-width="0.9" stroke-dasharray="3 3"/>
<line x1="363.5" x2="683.5" y1="276.27" y2="276.27" stroke="#cccccc" stroke-width="0.9" stroke-dasharray="3 3"/>
<line x1="363.5" x2="683.5" y1="245.21" y2="245.21" stroke="#cccccc" stroke-width="0.9" stroke-dasharray="3 3"/>
<line x1="363.5" x2="683.5" y1="214.15" y2="214.15" stroke="#cccccc" stroke-width="0.9" stroke-dasharray="3 3"/>
<line x1="363.5" x2="683.5" y1="183.09" y2="183.09" stroke="#cccccc" stroke-width="0.9" stroke-dasharray="3 3"/>
<line x1="363.5" x2="683.5" y1="152.03" y2="152.03" stroke="#cccccc" stroke-width="0.9" stroke-dasharray="3 3"/>
<line x1="363.5" x2="683.5" y1="120.97" y2="120.97" stroke="#cccccc" stroke-width="0.9" stroke-dasharray="3 3"/>
<line x1="363.5" x2="683.5" y1="89.91" y2="89.91" stroke="#cccccc" stroke-width="0.9" stroke-dasharray="3 3"/>
<line x1="377.00" x2="377.00" y1="64.3" y2="301.5" stroke="#bdbdbd" stroke-width="1.35"/>
<line x1="406.30" x2="406.30" y1="64.3" y2="301.5" stroke="#bdbdbd" stroke-width="1.35"/>
<line x1="435.60" x2="435.60" y1="64.3" y2="301.5" stroke="#bdbdbd" stroke-width="1.35"/>
<line x1="464.90" x2="464.90" y1="64.3" y2="301.5" stroke="#bdbdbd" stroke-width="1.35"/>
<line x1="494.20" x2="494.20" y1="64.3" y2="301.5" stroke="#bdbdbd" stroke-width="1.35"/>
<line x1="523.50" x2="523.50" y1="64.3" y2="301.5" stroke="#bdbdbd" stroke-width="1.35"/>
<line x1="552.80" x2="552.80" y1="64.3" y2="301.5" stroke="#bdbdbd" stroke-width="1.35"/>
<line x1="582.10" x2="582.10" y1="64.3" y2="301.5" stroke="#bdbdbd" stroke-width="1.35"/>
<line x1="611.40" x2="611.40" y1="64.3" y2="301.5" stroke="#bdbdbd" stroke-width="1.35"/>
<line x1="640.70" x2="640.70" y1="64.3" y2="301.5" stroke="#bdbdbd" stroke-width="1.35"/>
<line x1="670.00" x2="670.00" y1="64.3" y2="301.5" stroke="#bdbdbd" stroke-width="1.35"/>
<line x1="363.5" x2="683.5" y1="291.80" y2="291.80" stroke="#bdbdbd" stroke-width="1.35"/>
<line x1="363.5" x2="683.5" y1="260.74" y2="260.74" stroke="#bdbdbd" stroke-width="1.35"/>
<line x1="363.5" x2="683.5" y1="229.68" y2="229.68" stroke="#bdbdbd" stroke-width="1.35"/>
<line x1="363.5" x2="683.5" y1="198.62" y2="198.62" stroke="#bdbdbd" stroke-width="1.35"/>
<line x1="363.5" x2="683.5" y1="167.56" y2="167.56" stroke="#bdbdbd" stroke-width="1.35"/>
<line x1="363.5" x2="683.5" y1="136.50" y2="136.50" stroke="#bdbdbd" stroke-width="1.35"/>
<line x1="363.5" x2="683.5" y1="105.44" y2="105.44" stroke="#bdbdbd" stroke-width="1.35"/>
<line x1="363.5" x2="683.5" y1="74.38" y2="74.38" stroke="#bdbdbd" stroke-width="1.35"/>
</g>
<rect x="363.5" y="64.3" width="320.0" height="237.2" fill="none" stroke="#000" stroke-width="3"/>
<rect x="363.5" y="41.2" width="320.0" height="20.80" fill="#fff" stroke="#000" stroke-width="2.5"/>
<line x1="377.00" x2="377.00" y1="64.0" y2="65.89999999999999" stroke="#bdbdbd" stroke-width="1.1" opacity="0.8"/>
<line x1="406.30" x2="406.30" y1="64.0" y2="65.89999999999999" stroke="#bdbdbd" stroke-width="1.1" opacity="0.8"/>
<line x1="435.60" x2="435.60" y1="64.0" y2="65.89999999999999" stroke="#bdbdbd" stroke-width="1.1" opacity="0.8"/>
<line x1="464.90" x2="464.90" y1="64.0" y2="65.89999999999999" stroke="#bdbdbd" stroke-width="1.1" opacity="0.8"/>
<line x1="494.20" x2="494.20" y1="64.0" y2="65.89999999999999" stroke="#bdbdbd" stroke-width="1.1" opacity="0.8"/>
<line x1="523.50" x2="523.50" y1="64.0" y2="65.89999999999999" stroke="#bdbdbd" stroke-width="1.1" opacity="0.8"/>
<line x1="552.80" x2="552.80" y1="64.0" y2="65.89999999999999" stroke="#bdbdbd" stroke-width="1.1" opacity="0.8"/>
<line x1="582.10" x2="582.10" y1="64.0" y2="65.89999999999999" stroke="#bdbdbd" stroke-width="1.1" opacity="0.8"/>
<line x1="611.40" x2="611.40" y1="64.0" y2="65.89999999999999" stroke="#bdbdbd" stroke-width="1.1" opacity="0.8"/>
<line x1="640.70" x2="640.70" y1="64.0" y2="65.89999999999999" stroke="#bdbdbd" stroke-width="1.1" opacity="0.8"/>
<line x1="670.00" x2="670.00" y1="64.0" y2="65.89999999999999" stroke="#bdbdbd" stroke-width="1.1" opacity="0.8"/>
<line x1="391.65" x2="391.65" y1="64.0" y2="65.89999999999999" stroke="#cccccc" stroke-width="0.7" opacity="0.7"/>
<line x1="420.95" x2="420.95" y1="64.0" y2="65.89999999999999" stroke="#cccccc" stroke-width="0.7" opacity="0.7"/>
<line x1="450.25" x2="450.25" y1="64.0" y2="65.89999999999999" stroke="#cccccc" stroke-width="0.7" opacity="0.7"/>
<line x1="479.55" x2="479.55" y1="64.0" y2="65.89999999999999" stroke="#cccccc" stroke-width="0.7" opacity="0.7"/>
<line x1="508.85" x2="508.85" y1="64.0" y2="65.89999999999999" stroke="#cccccc" stroke-width="0.7" opacity="0.7"/>
<line x1="538.15" x2="538.15" y1="64.0" y2="65.89999999999999" stroke="#cccccc" stroke-width="0.7" opacity="0.7"/>
<line x1="567.45" x2="567.45" y1="64.0" y2="65.89999999999999" stroke="#cccccc" stroke-width="0.7" opacity="0.7"/>
<line x1="596.75" x2="596.75" y1="64.0" y2="65.89999999999999" stroke="#cccccc" stroke-width="0.7" opacity="0.7"/>
<line x1="626.05" x2="626.05" y1="64.0" y2="65.89999999999999" stroke="#cccccc" stroke-width="0.7" opacity="0.7"/>
<line x1="655.35" x2="655.35" y1="64.0" y2="65.89999999999999" stroke="#cccccc" stroke-width="0.7" opacity="0.7"/>
<line x1="362.35" x2="362.35" y1="65.8" y2="303.0" stroke="#cccccc" stroke-width="0.9" stroke-dasharray="3 3" stroke-dashoffset="1.5"/>
<line x1="684.95" x2="684.95" y1="65.8" y2="303.0" stroke="#cccccc" stroke-width="0.9" stroke-dasharray="3 3" stroke-dashoffset="1.5"/>
<line x1="377.00" x2="377.00" y1="299.9" y2="301.8" stroke="#bdbdbd" stroke-width="1.1" opacity="0.8"/>
<line x1="406.30" x2="406.30" y1="299.9" y2="301.8" stroke="#bdbdbd" stroke-width="1.1" opacity="0.8"/>
<line x1="435.60" x2="435.60" y1="299.9" y2="301.8" stroke="#bdbdbd" stroke-width="1.1" opacity="0.8"/>
<line x1="464.90" x2="464.90" y1="299.9" y2="301.8" stroke="#bdbdbd" stroke-width="1.1" opacity="0.8"/>
<line x1="494.20" x2="494.20" y1="299.9" y2="301.8" stroke="#bdbdbd" stroke-width="1.1" opacity="0.8"/>
<line x1="523.50" x2="523.50" y1="299.9" y2="301.8" stroke="#bdbdbd" stroke-width="1.1" opacity="0.8"/>
<line x1="552.80" x2="552.80" y1="299.9" y2="301.8" stroke="#bdbdbd" stroke-width="1.1" opacity="0.8"/>
<line x1="582.10" x2="582.10" y1="299.9" y2="301.8" stroke="#bdbdbd" stroke-width="1.1" opacity="0.8"/>
<line x1="611.40" x2="611.40" y1="299.9" y2="301.8" stroke="#bdbdbd" stroke-width="1.1" opacity="0.8"/>
<line x1="640.70" x2="640.70" y1="299.9" y2="301.8" stroke="#bdbdbd" stroke-width="1.1" opacity="0.8"/>
<line x1="670.00" x2="670.00" y1="299.9" y2="301.8" stroke="#bdbdbd" stroke-width="1.1" opacity="0.8"/>
<line x1="391.65" x2="391.65" y1="299.9" y2="301.8" stroke="#cccccc" stroke-width="0.7" opacity="0.7"/>
<line x1="420.95" x2="420.95" y1="299.9" y2="301.8" stroke="#cccccc" stroke-width="0.7" opacity="0.7"/>
<line x1="450.25" x2="450.25" y1="299.9" y2="301.8" stroke="#cccccc" stroke-width="0.7" opacity="0.7"/>
<line x1="479.55" x2="479.55" y1="299.9" y2="301.8" stroke="#cccccc" stroke-width="0.7" opacity="0.7"/>
<line x1="508.85" x2="508.85" y1="299.9" y2="301.8" stroke="#cccccc" stroke-width="0.7" opacity="0.7"/>
<line x1="538.15" x2="538.15" y1="299.9" y2="301.8" stroke="#cccccc" stroke-width="0.7" opacity="0.7"/>
<line x1="567.45" x2="567.45" y1="299.9" y2="301.8" stroke="#cccccc" stroke-width="0.7" opacity="0.7"/>
<line x1="596.75" x2="596.75" y1="299.9" y2="301.8" stroke="#cccccc" stroke-width="0.7" opacity="0.7"/>
<line x1="626.05" x2="626.05" y1="299.9" y2="301.8" stroke="#cccccc" stroke-width="0.7" opacity="0.7"/>
<line x1="655.35" x2="655.35" y1="299.9" y2="301.8" stroke="#cccccc" stroke-width="0.7" opacity="0.7"/>
<line x1="361.9" x2="365.1" y1="291.80" y2="291.80" stroke="#bdbdbd" stroke-width="1.1" opacity="0.8"/>
<line x1="681.9" x2="685.1" y1="291.80" y2="291.80" stroke="#bdbdbd" stroke-width="1.1" opacity="0.8"/>
<line x1="361.9" x2="365.1" y1="260.74" y2="260.74" stroke="#bdbdbd" stroke-width="1.1" opacity="0.8"/>
<line x1="681.9" x2="685.1" y1="260.74" y2="260.74" stroke="#bdbdbd" stroke-width="1.1" opacity="0.8"/>
<line x1="361.9" x2="365.1" y1="229.68" y2="229.68" stroke="#bdbdbd" stroke-width="1.1" opacity="0.8"/>
<line x1="681.9" x2="685.1" y1="229.68" y2="229.68" stroke="#bdbdbd" stroke-width="1.1" opacity="0.8"/>
<line x1="361.9" x2="365.1" y1="198.62" y2="198.62" stroke="#bdbdbd" stroke-width="1.1" opacity="0.8"/>
<line x1="681.9" x2="685.1" y1="198.62" y2="198.62" stroke="#bdbdbd" stroke-width="1.1" opacity="0.8"/>
<line x1="361.9" x2="365.1" y1="167.56" y2="167.56" stroke="#bdbdbd" stroke-width="1.1" opacity="0.8"/>
<line x1="681.9" x2="685.1" y1="167.56" y2="167.56" stroke="#bdbdbd" stroke-width="1.1" opacity="0.8"/>
<line x1="361.9" x2="365.1" y1="136.50" y2="136.50" stroke="#bdbdbd" stroke-width="1.1" opacity="0.8"/>
<line x1="681.9" x2="685.1" y1="136.50" y2="136.50" stroke="#bdbdbd" stroke-width="1.1" opacity="0.8"/>
<line x1="361.9" x2="365.1" y1="105.44" y2="105.44" stroke="#bdbdbd" stroke-width="1.1" opacity="0.8"/>
<line x1="681.9" x2="685.1" y1="105.44" y2="105.44" stroke="#bdbdbd" stroke-width="1.1" opacity="0.8"/>
<line x1="361.9" x2="365.1" y1="74.38" y2="74.38" stroke="#bdbdbd" stroke-width="1.1" opacity="0.8"/>
<line x1="681.9" x2="685.1" y1="74.38" y2="74.38" stroke="#bdbdbd" stroke-width="1.1" opacity="0.8"/>
<line x1="361.9" x2="365.1" y1="276.27" y2="276.27" stroke="#cccccc" stroke-width="0.7" opacity="0.5"/>
<line x1="681.9" x2="685.1" y1="276.27" y2="276.27" stroke="#cccccc" stroke-width="0.7" opacity="0.5"/>
<line x1="361.9" x2="365.1" y1="245.21" y2="245.21" stroke="#cccccc" stroke-width="0.7" opacity="0.5"/>
<line x1="681.9" x2="685.1" y1="245.21" y2="245.21" stroke="#cccccc" stroke-width="0.7" opacity="0.5"/>
<line x1="361.9" x2="365.1" y1="214.15" y2="214.15" stroke="#cccccc" stroke-width="0.7" opacity="0.5"/>
<line x1="681.9" x2="685.1" y1="214.15" y2="214.15" stroke="#cccccc" stroke-width="0.7" opacity="0.5"/>
<line x1="361.9" x2="365.1" y1="183.09" y2="183.09" stroke="#cccccc" stroke-width="0.7" opacity="0.5"/>
<line x1="681.9" x2="685.1" y1="183.09" y2="183.09" stroke="#cccccc" stroke-width="0.7" opacity="0.5"/>
<line x1="361.9" x2="365.1" y1="152.03" y2="152.03" stroke="#cccccc" stroke-width="0.7" opacity="0.5"/>
<line x1="681.9" x2="685.1" y1="152.03" y2="152.03" stroke="#cccccc" stroke-width="0.7" opacity="0.5"/>
<line x1="361.9" x2="365.1" y1="120.97" y2="120.97" stroke="#cccccc" stroke-width="0.7" opacity="0.5"/>
<line x1="681.9" x2="685.1" y1="120.97" y2="120.97" stroke="#cccccc" stroke-width="0.7" opacity="0.5"/>
<line x1="361.9" x2="365.1" y1="89.91" y2="89.91" stroke="#cccccc" stroke-width="0.7" opacity="0.5"/>
<line x1="681.9" x2="685.1" y1="89.91" y2="89.91" stroke="#cccccc" stroke-width="0.7" opacity="0.5"/>
<g clip-path="url(#cp1)">
<circle cx="377.00" cy="291.80" r="4.4" fill="#000000"/>
<circle cx="391.65" cy="274.10" r="4.4" fill="#000000"/>
<circle cx="406.30" cy="248.32" r="4.4" fill="#000000"/>
<circle cx="435.60" cy="232.63" r="4.4" fill="#000000"/>
<circle cx="494.20" cy="208.56" r="4.4" fill="#000000"/>
<circle cx="611.40" cy="181.23" r="4.4" fill="#000000"/>
<circle cx="670.00" cy="141.16" r="4.4" fill="#000000"/>
<polygon points="377.00,284.93 382.93,295.23 371.07,295.23" fill="#E69F00"/>
<polygon points="391.65,233.06 397.57,243.36 385.72,243.36" fill="#E69F00"/>
<polygon points="406.30,218.78 412.23,229.08 400.38,229.08" fill="#E69F00"/>
<polygon points="435.60,196.10 441.53,206.40 429.68,206.40" fill="#E69F00"/>
<polygon points="494.20,159.76 500.12,170.06 488.27,170.06" fill="#E69F00"/>
<polygon points="611.40,94.54 617.32,104.84 605.48,104.84" fill="#E69F00"/>
<polygon points="670.00,87.70 675.92,98.00 664.08,98.00" fill="#E69F00"/>
<rect x="372.60" y="287.40" width="8.8" height="8.8" fill="#56B4E9"/>
<rect x="387.25" y="257.27" width="8.8" height="8.8" fill="#56B4E9"/>
<rect x="401.90" y="230.87" width="8.8" height="8.8" fill="#56B4E9"/>
<rect x="431.20" y="210.06" width="8.8" height="8.8" fill="#56B4E9"/>
<rect x="489.80" y="170.30" width="8.8" height="8.8" fill="#56B4E9"/>
<rect x="607.00" y="102.28" width="8.8" height="8.8" fill="#56B4E9"/>
<rect x="665.60" y="89.55" width="8.8" height="8.8" fill="#56B4E9"/>
<circle cx="391.65" cy="271.61" r="4.4" fill="#000000"/>
<circle cx="406.30" cy="244.59" r="4.4" fill="#000000"/>
<circle cx="435.60" cy="227.82" r="4.4" fill="#000000"/>
<circle cx="494.20" cy="204.83" r="4.4" fill="#000000"/>
<circle cx="611.40" cy="175.01" r="4.4" fill="#000000"/>
<circle cx="670.00" cy="136.50" r="4.4" fill="#000000"/>
<polygon points="391.65,239.90 397.57,250.20 385.72,250.20" fill="#E69F00"/>
<polygon points="406.30,222.81 412.23,233.11 400.38,233.11" fill="#E69F00"/>
<polygon points="435.60,205.42 441.53,215.72 429.68,215.72" fill="#E69F00"/>
<polygon points="494.20,172.19 500.12,182.49 488.27,182.49" fill="#E69F00"/>
<polygon points="611.40,87.08 617.32,97.38 605.48,97.38" fill="#E69F00"/>
<rect x="387.25" y="236.77" width="8.8" height="8.8" fill="#56B4E9"/>
<rect x="401.90" y="227.45" width="8.8" height="8.8" fill="#56B4E9"/>
<rect x="431.20" y="208.20" width="8.8" height="8.8" fill="#56B4E9"/>
<rect x="489.80" y="180.24" width="8.8" height="8.8" fill="#56B4E9"/>
<rect x="607.00" y="89.24" width="8.8" height="8.8" fill="#56B4E9"/>
<circle cx="611.40" cy="166.01" r="4.4" fill="#000000"/>
<rect x="489.80" y="188.94" width="8.8" height="8.8" fill="#56B4E9"/>
<path d="M377.00,277.20 L378.46,276.24 L379.93,275.28 L381.39,274.31 L382.86,273.35 L384.32,272.39 L385.79,271.43 L387.25,270.46 L388.72,269.50 L390.19,268.54 L391.65,267.57 L393.12,266.61 L394.58,265.65 L396.05,264.69 L397.51,263.72 L398.98,262.76 L400.44,261.80 L401.90,260.84 L403.37,259.87 L404.83,258.91 L406.30,257.95 L407.76,256.99 L409.23,256.03 L410.69,255.06 L412.16,254.10 L413.62,253.14 L415.09,252.18 L416.56,251.21 L418.02,250.25 L419.49,249.29 L420.95,248.33 L422.42,247.37 L423.88,246.40 L425.35,245.44 L426.81,244.48 L428.27,243.52 L429.74,242.56 L431.20,241.60 L432.67,240.64 L434.13,239.67 L435.60,238.71 L437.06,237.75 L438.53,236.79 L440.00,235.83 L441.46,234.87 L442.93,233.91 L444.39,232.95 L445.86,231.99 L447.32,231.03 L448.79,230.07 L450.25,229.11 L451.72,228.16 L453.18,227.20 L454.64,226.24 L456.11,225.28 L457.57,224.32 L459.04,223.37 L460.50,222.41 L461.97,221.46 L463.44,220.50 L464.90,219.55 L466.37,218.59 L467.83,217.64 L469.30,216.68 L470.76,215.73 L472.23,214.78 L473.69,213.83 L475.15,212.88 L476.62,211.93 L478.09,210.98 L479.55,210.04 L481.01,209.09 L482.48,208.15 L483.94,207.21 L485.41,206.26 L486.88,205.32 L488.34,204.39 L489.81,203.45 L491.27,202.52 L492.74,201.58 L494.20,200.65 L495.66,199.72 L497.13,198.80 L498.60,197.88 L500.06,196.96 L501.52,196.04 L502.99,195.13 L504.45,194.22 L505.92,193.31 L507.38,192.41 L508.85,191.51 L510.31,190.61 L511.78,189.72 L513.25,188.84 L514.71,187.96 L516.17,187.09 L517.64,186.22 L519.11,185.36 L520.57,184.50 L522.03,183.66 L523.50,182.82 L524.97,181.98 L526.43,181.16 L527.89,180.34 L529.36,179.54 L530.83,178.74 L532.29,177.95 L533.75,177.18 L535.22,176.41 L536.68,175.66 L538.15,174.92 L539.62,174.19 L541.08,173.47 L542.55,172.77 L544.01,172.08 L545.48,171.41 L546.94,170.74 L548.40,170.10 L549.87,169.47 L551.34,168.85 L552.80,168.26 L554.26,167.67 L555.73,167.11 L557.20,166.56 L558.66,166.03 L560.12,165.51 L561.59,165.01 L563.06,164.53 L564.52,164.07 L565.99,163.62 L567.45,163.20 L568.91,162.78 L570.38,162.39 L571.85,162.01 L573.31,161.65 L574.77,161.30 L576.24,160.97 L577.70,160.65 L579.17,160.35 L580.63,160.06 L582.10,159.79 L583.57,159.53 L585.03,159.29 L586.50,159.06 L587.96,158.84 L589.42,158.63 L590.89,158.43 L592.36,158.25 L593.82,158.07 L595.28,157.91 L596.75,157.75 L598.22,157.60 L599.68,157.47 L601.14,157.34 L602.61,157.21 L604.08,157.10 L605.54,156.99 L607.00,156.89 L608.47,156.80 L609.93,156.71 L611.40,156.62 L612.87,156.55 L614.33,156.47 L615.80,156.40 L617.26,156.34 L618.73,156.28 L620.19,156.23 L621.65,156.17 L623.12,156.12 L624.59,156.08 L626.05,156.04 L627.51,156.00 L628.98,155.96 L630.45,155.92 L631.91,155.89 L633.38,155.86 L634.84,155.83 L636.31,155.81 L637.77,155.78 L639.24,155.76 L640.70,155.74 L642.16,155.72 L643.63,155.70 L645.10,155.68 L646.56,155.67 L648.03,155.65 L649.49,155.64 L650.95,155.62 L652.42,155.61 L653.88,155.60 L655.35,155.59 L656.82,155.58 L658.28,155.57 L659.75,155.56 L661.21,155.55 L662.67,155.55 L664.14,155.54 L665.61,155.53 L667.07,155.53 L668.53,155.52 L670.00,155.52" fill="none" stroke="#000000" stroke-width="2.7" stroke-linejoin="round"/>
<line x1="670.00" y1="78.88" x2="377.00" y2="277.82" stroke="#000000" stroke-width="2.7" stroke-dasharray="5.4 5.4" stroke-dashoffset="4.9"/>
<path d="M377.00,266.64 L378.46,265.39 L379.93,264.13 L381.39,262.88 L382.86,261.62 L384.32,260.37 L385.79,259.11 L387.25,257.86 L388.72,256.60 L390.19,255.35 L391.65,254.09 L393.12,252.84 L394.58,251.58 L396.05,250.33 L397.51,249.07 L398.98,247.82 L400.44,246.56 L401.90,245.31 L403.37,244.05 L404.83,242.80 L406.30,241.55 L407.76,240.29 L409.23,239.04 L410.69,237.78 L412.16,236.53 L413.62,235.27 L415.09,234.02 L416.56,232.76 L418.02,231.51 L419.49,230.25 L420.95,229.00 L422.42,227.74 L423.88,226.49 L425.35,225.23 L426.81,223.98 L428.27,222.72 L429.74,221.47 L431.20,220.21 L432.67,218.96 L434.13,217.70 L435.60,216.45 L437.06,215.20 L438.53,213.94 L440.00,212.69 L441.46,211.43 L442.93,210.18 L444.39,208.92 L445.86,207.67 L447.32,206.41 L448.79,205.16 L450.25,203.90 L451.72,202.65 L453.18,201.40 L454.64,200.14 L456.11,198.89 L457.57,197.63 L459.04,196.38 L460.50,195.12 L461.97,193.87 L463.44,192.62 L464.90,191.36 L466.37,190.11 L467.83,188.85 L469.30,187.60 L470.76,186.35 L472.23,185.09 L473.69,183.84 L475.15,182.59 L476.62,181.34 L478.09,180.08 L479.55,178.83 L481.01,177.58 L482.48,176.33 L483.94,175.07 L485.41,173.82 L486.88,172.57 L488.34,171.32 L489.81,170.07 L491.27,168.82 L492.74,167.57 L494.20,166.32 L495.66,165.07 L497.13,163.83 L498.60,162.58 L500.06,161.33 L501.52,160.09 L502.99,158.84 L504.45,157.60 L505.92,156.36 L507.38,155.12 L508.85,153.88 L510.31,152.64 L511.78,151.40 L513.25,150.17 L514.71,148.94 L516.17,147.70 L517.64,146.48 L519.11,145.25 L520.57,144.03 L522.03,142.81 L523.50,141.59 L524.97,140.37 L526.43,139.17 L527.89,137.96 L529.36,136.76 L530.83,135.56 L532.29,134.37 L533.75,133.19 L535.22,132.01 L536.68,130.84 L538.15,129.67 L539.62,128.52 L541.08,127.37 L542.55,126.24 L544.01,125.11 L545.48,123.99 L546.94,122.89 L548.40,121.80 L549.87,120.72 L551.34,119.66 L552.80,118.61 L554.26,117.58 L555.73,116.57 L557.20,115.57 L558.66,114.60 L560.12,113.65 L561.59,112.72 L563.06,111.81 L564.52,110.92 L565.99,110.06 L567.45,109.23 L568.91,108.42 L570.38,107.64 L571.85,106.88 L573.31,106.16 L574.77,105.46 L576.24,104.79 L577.70,104.16 L579.17,103.55 L580.63,102.97 L582.10,102.41 L583.57,101.89 L585.03,101.40 L586.50,100.93 L587.96,100.49 L589.42,100.08 L590.89,99.69 L592.36,99.32 L593.82,98.98 L595.28,98.66 L596.75,98.37 L598.22,98.09 L599.68,97.84 L601.14,97.60 L602.61,97.38 L604.08,97.17 L605.54,96.98 L607.00,96.81 L608.47,96.65 L609.93,96.50 L611.40,96.37 L612.87,96.24 L614.33,96.12 L615.80,96.02 L617.26,95.92 L618.73,95.83 L620.19,95.75 L621.65,95.67 L623.12,95.61 L624.59,95.54 L626.05,95.49 L627.51,95.43 L628.98,95.38 L630.45,95.34 L631.91,95.30 L633.38,95.26 L634.84,95.23 L636.31,95.20 L637.77,95.17 L639.24,95.15 L640.70,95.12 L642.16,95.10 L643.63,95.08 L645.10,95.06 L646.56,95.05 L648.03,95.03 L649.49,95.02 L650.95,95.01 L652.42,95.00 L653.88,94.98 L655.35,94.98 L656.82,94.97 L658.28,94.96 L659.75,94.95 L661.21,94.95 L662.67,94.94 L664.14,94.93 L665.61,94.93 L667.07,94.93 L668.53,94.92 L670.00,94.92" fill="none" stroke="#E69F00" stroke-width="2.7" stroke-linejoin="round"/>
<line x1="599.21" y1="75.93" x2="377.00" y2="266.64" stroke="#E69F00" stroke-width="2.7" stroke-dasharray="5.4 5.4" stroke-dashoffset="0.0"/>
<path d="M377.00,269.59 L378.46,268.42 L379.93,267.25 L381.39,266.08 L382.86,264.91 L384.32,263.75 L385.79,262.58 L387.25,261.41 L388.72,260.24 L390.19,259.07 L391.65,257.90 L393.12,256.73 L394.58,255.56 L396.05,254.39 L397.51,253.22 L398.98,252.05 L400.44,250.88 L401.90,249.71 L403.37,248.54 L404.83,247.37 L406.30,246.20 L407.76,245.03 L409.23,243.87 L410.69,242.70 L412.16,241.53 L413.62,240.36 L415.09,239.19 L416.56,238.02 L418.02,236.85 L419.49,235.68 L420.95,234.51 L422.42,233.34 L423.88,232.17 L425.35,231.00 L426.81,229.83 L428.27,228.66 L429.74,227.49 L431.20,226.32 L432.67,225.16 L434.13,223.99 L435.60,222.82 L437.06,221.65 L438.53,220.48 L440.00,219.31 L441.46,218.14 L442.93,216.97 L444.39,215.80 L445.86,214.63 L447.32,213.46 L448.79,212.29 L450.25,211.12 L451.72,209.95 L453.18,208.79 L454.64,207.62 L456.11,206.45 L457.57,205.28 L459.04,204.11 L460.50,202.94 L461.97,201.77 L463.44,200.60 L464.90,199.43 L466.37,198.26 L467.83,197.10 L469.30,195.93 L470.76,194.76 L472.23,193.59 L473.69,192.42 L475.15,191.25 L476.62,190.08 L478.09,188.91 L479.55,187.75 L481.01,186.58 L482.48,185.41 L483.94,184.24 L485.41,183.07 L486.88,181.91 L488.34,180.74 L489.81,179.57 L491.27,178.40 L492.74,177.24 L494.20,176.07 L495.66,174.90 L497.13,173.74 L498.60,172.57 L500.06,171.41 L501.52,170.24 L502.99,169.08 L504.45,167.91 L505.92,166.75 L507.38,165.58 L508.85,164.42 L510.31,163.26 L511.78,162.10 L513.25,160.93 L514.71,159.77 L516.17,158.61 L517.64,157.45 L519.11,156.30 L520.57,155.14 L522.03,153.98 L523.50,152.83 L524.97,151.67 L526.43,150.52 L527.89,149.37 L529.36,148.22 L530.83,147.08 L532.29,145.93 L533.75,144.79 L535.22,143.65 L536.68,142.51 L538.15,141.37 L539.62,140.24 L541.08,139.11 L542.55,137.99 L544.01,136.87 L545.48,135.75 L546.94,134.63 L548.40,133.53 L549.87,132.42 L551.34,131.33 L552.80,130.23 L554.26,129.15 L555.73,128.07 L557.20,127.00 L558.66,125.94 L560.12,124.89 L561.59,123.84 L563.06,122.81 L564.52,121.79 L565.99,120.77 L567.45,119.77 L568.91,118.79 L570.38,117.82 L571.85,116.86 L573.31,115.91 L574.77,114.99 L576.24,114.08 L577.70,113.19 L579.17,112.32 L580.63,111.46 L582.10,110.63 L583.57,109.82 L585.03,109.03 L586.50,108.26 L587.96,107.52 L589.42,106.80 L590.89,106.10 L592.36,105.43 L593.82,104.79 L595.28,104.17 L596.75,103.57 L598.22,103.00 L599.68,102.45 L601.14,101.93 L602.61,101.44 L604.08,100.97 L605.54,100.52 L607.00,100.10 L608.47,99.70 L609.93,99.32 L611.40,98.97 L612.87,98.63 L614.33,98.32 L615.80,98.03 L617.26,97.75 L618.73,97.49 L620.19,97.25 L621.65,97.03 L623.12,96.82 L624.59,96.62 L626.05,96.44 L627.51,96.27 L628.98,96.12 L630.45,95.97 L631.91,95.84 L633.38,95.71 L634.84,95.60 L636.31,95.49 L637.77,95.39 L639.24,95.30 L640.70,95.22 L642.16,95.14 L643.63,95.07 L645.10,95.00 L646.56,94.94 L648.03,94.89 L649.49,94.84 L650.95,94.79 L652.42,94.75 L653.88,94.71 L655.35,94.67 L656.82,94.64 L658.28,94.61 L659.75,94.58 L661.21,94.55 L662.67,94.53 L664.14,94.50 L665.61,94.48 L667.07,94.47 L668.53,94.45 L670.00,94.43" fill="none" stroke="#56B4E9" stroke-width="2.7" stroke-linejoin="round"/>
<line x1="619.90" y1="76.24" x2="377.00" y2="269.44" stroke="#56B4E9" stroke-width="2.7" stroke-dasharray="5.4 5.4" stroke-dashoffset="4.9"/>
</g>
<line x1="377.00" x2="377.00" y1="302.9" y2="306.0" stroke="#000" stroke-width="1.2"/>
<text x="377.00" y="318.2" font-size="12.8" text-anchor="middle">0</text>
<line x1="406.30" x2="406.30" y1="302.9" y2="306.0" stroke="#000" stroke-width="1.2"/>
<text x="406.30" y="318.2" font-size="12.8" text-anchor="middle">1</text>
<line x1="435.60" x2="435.60" y1="302.9" y2="306.0" stroke="#000" stroke-width="1.2"/>
<text x="435.60" y="318.2" font-size="12.8" text-anchor="middle">2</text>
<line x1="464.90" x2="464.90" y1="302.9" y2="306.0" stroke="#000" stroke-width="1.2"/>
<text x="464.90" y="318.2" font-size="12.8" text-anchor="middle">3</text>
<line x1="494.20" x2="494.20" y1="302.9" y2="306.0" stroke="#000" stroke-width="1.2"/>
<text x="494.20" y="318.2" font-size="12.8" text-anchor="middle">4</text>
<line x1="523.50" x2="523.50" y1="302.9" y2="306.0" stroke="#000" stroke-width="1.2"/>
<text x="523.50" y="318.2" font-size="12.8" text-anchor="middle">5</text>
<line x1="552.80" x2="552.80" y1="302.9" y2="306.0" stroke="#000" stroke-width="1.2"/>
<text x="552.80" y="318.2" font-size="12.8" text-anchor="middle">6</text>
<line x1="582.10" x2="582.10" y1="302.9" y2="306.0" stroke="#000" stroke-width="1.2"/>
<text x="582.10" y="318.2" font-size="12.8" text-anchor="middle">7</text>
<line x1="611.40" x2="611.40" y1="302.9" y2="306.0" stroke="#000" stroke-width="1.2"/>
<text x="611.40" y="318.2" font-size="12.8" text-anchor="middle">8</text>
<line x1="640.70" x2="640.70" y1="302.9" y2="306.0" stroke="#000" stroke-width="1.2"/>
<text x="640.70" y="318.2" font-size="12.8" text-anchor="middle">9</text>
<line x1="670.00" x2="670.00" y1="302.9" y2="306.0" stroke="#000" stroke-width="1.2"/>
<text x="670.00" y="318.2" font-size="12.8" text-anchor="middle">10</text>
<text x="523.90" y="57.1" font-size="13" font-style="italic" text-anchor="middle">Y. ruckeri</text>
<line x1="29.1" x2="32.1" y1="291.80" y2="291.80" stroke="#000" stroke-width="1.3"/>
<text x="26" y="295.95" font-size="12.8" text-anchor="end">0</text>
<line x1="29.1" x2="32.1" y1="260.74" y2="260.74" stroke="#000" stroke-width="1.3"/>
<text x="26" y="264.89" font-size="12.8" text-anchor="end">1</text>
<line x1="29.1" x2="32.1" y1="229.68" y2="229.68" stroke="#000" stroke-width="1.3"/>
<text x="26" y="233.83" font-size="12.8" text-anchor="end">2</text>
<line x1="29.1" x2="32.1" y1="198.62" y2="198.62" stroke="#000" stroke-width="1.3"/>
<text x="26" y="202.77" font-size="12.8" text-anchor="end">3</text>
<line x1="29.1" x2="32.1" y1="167.56" y2="167.56" stroke="#000" stroke-width="1.3"/>
<text x="26" y="171.71" font-size="12.8" text-anchor="end">4</text>
<line x1="29.1" x2="32.1" y1="136.50" y2="136.50" stroke="#000" stroke-width="1.3"/>
<text x="26" y="140.65" font-size="12.8" text-anchor="end">5</text>
<line x1="29.1" x2="32.1" y1="105.44" y2="105.44" stroke="#000" stroke-width="1.3"/>
<text x="26" y="109.59" font-size="12.8" text-anchor="end">6</text>
<line x1="29.1" x2="32.1" y1="74.38" y2="74.38" stroke="#000" stroke-width="1.3"/>
<text x="26" y="78.53" font-size="12.8" text-anchor="end">7</text>
<text x="306.4" y="337.8" font-size="13">Fluence, mJ cm<tspan font-size="9.1" dy="-5.4">-2</tspan></text>
<text transform="translate(9.9,183) rotate(-90)" font-size="13" text-anchor="middle">Log Reduction Value</text>
<text x="94.6" y="11.8" font-size="13">UV LED:</text>
<line x1="154.3" x2="172.4" y1="7.35" y2="7.35" stroke="#000000" stroke-width="2.7"/>
<circle cx="163.35" cy="7.35" r="4.4" fill="#000000"/>
<text x="181.6" y="11.8" font-size="13">255 nm</text>
<line x1="234.5" x2="252.6" y1="7.35" y2="7.35" stroke="#E69F00" stroke-width="2.7"/>
<polygon points="243.55,0.48 249.48,10.78 237.62,10.78" fill="#E69F00"/>
<text x="261.8" y="11.8" font-size="13">267 nm</text>
<line x1="315.0" x2="333.1" y1="7.35" y2="7.35" stroke="#56B4E9" stroke-width="2.7"/>
<rect x="319.65" y="2.95" width="8.8" height="8.8" fill="#56B4E9"/>
<text x="341.7" y="11.8" font-size="13">279 nm</text>
<text x="414.7" y="11.8" font-size="13">Model:</text>
<line x1="465.5" x2="483.6" y1="7.35" y2="7.35" stroke="#000" stroke-width="2.7"/>
<text x="492" y="11.8" font-size="13">Geeraerd</text>
<line x1="557.7" x2="574.2" y1="7.35" y2="7.35" stroke="#000" stroke-width="2.7" stroke-dasharray="5.5 5.3"/>
<text x="584.7" y="11.8" font-size="13">Linear</text>
</svg>
</body></html>
